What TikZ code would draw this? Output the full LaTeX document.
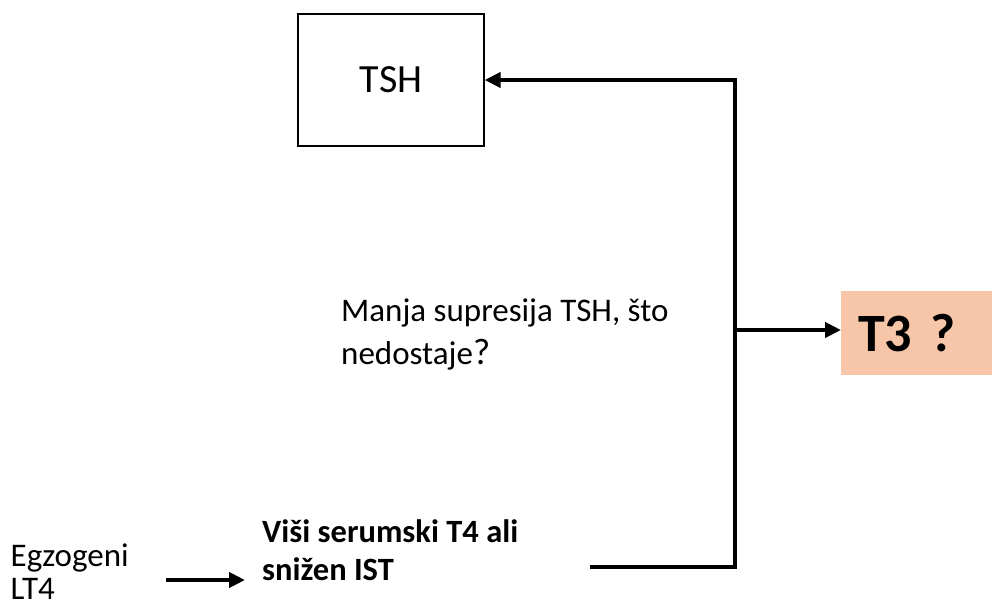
\documentclass[tikz,border=0pt]{standalone}
\usepackage{fontspec}
\setmainfont{Carlito}
\usetikzlibrary{arrows.meta}
\definecolor{tthree}{HTML}{F7C5A8}
\begin{document}
\begin{tikzpicture}[x=1pt,y=-1pt,
  thickline/.style={line width=4.5pt},
  arr/.style={thickline,-{Triangle[length=16pt,width=15pt]}},
  txt/.style={inner sep=0pt,anchor=base west},
  body/.style={font=\fontsize{33}{40}\selectfont},
  bodyb/.style={font=\bfseries\fontsize{32.5}{40}\selectfont},
  ]
\useasboundingbox (0,0) rectangle (992,608);
\node[draw, line width=1.3pt, minimum width=186pt, minimum height=132pt, inner sep=0pt,
      font=\fontsize{40}{48}\selectfont] (tsh) at (391,80) {TSH};
\node[fill=tthree, anchor=west, minimum height=84pt, text width=117pt, inner xsep=17pt,
      inner ysep=0pt, align=left, font=\bfseries\fontsize{54}{64}\selectfont] (t3) at (841,333) {T3 ?};
\node[txt, body] (mid1) at (341,321) {Manja supresija TSH, što};
\node[txt, body] (mid2) at (341,364) {nedostaje{\fontsize{37}{42}\selectfont ?}};
\node[txt, body] (egz1) at (10.5,566) {Egzogeni};
\node[txt, body] (egz2) at (10.5,599) {LT4};
\node[txt, bodyb] (visi1) at (262,542) {Viši serumski T4 ali};
\node[txt, bodyb] (visi2) at (262,580) {snižen IST};
\coordinate (jtop) at (735,80);
\coordinate (jmid) at (735,330);
\coordinate (jbot) at (735,567);
\coordinate (lstart) at (590,567);
\coordinate (a1) at (166,580);
\coordinate (a2) at (245,580);
\draw[arr] (lstart) -- (jbot) -- (jtop) -- (tsh.east);
\draw[arr] (jmid) -- (jmid -| t3.west);
\draw[arr] (a1) -- (a2);
\end{tikzpicture}
\end{document}
